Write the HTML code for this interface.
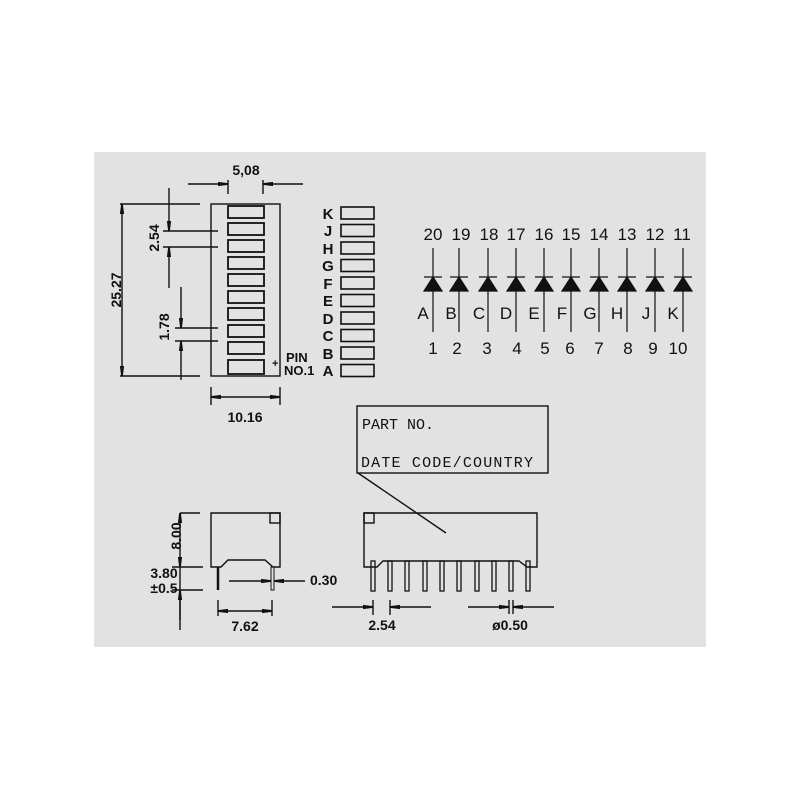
<!DOCTYPE html>
<html><head><style>
body{margin:0;background:#fff;}
svg{display:block;}
text{font-family:"Liberation Sans",sans-serif;fill:#111;}
</style></head><body>
<svg width="800" height="800" viewBox="0 0 800 800" xmlns="http://www.w3.org/2000/svg">
<defs>
<marker id="a" viewBox="0 0 12 6" refX="12" refY="3" markerWidth="12" markerHeight="5" orient="auto-start-reverse" markerUnits="userSpaceOnUse"><path d="M0,0.5 L12,2 L12,4 L0,5.5z" fill="#111"/></marker>
</defs>
<rect x="94" y="152" width="612" height="495" fill="#e2e2e2"/>
<g stroke="#111" stroke-width="1.4" fill="none">
<rect x="211" y="204" width="69" height="172"/>
<g stroke-width="1.8">
<rect x="228" y="206" width="36" height="12"/>
<rect x="228" y="223" width="36" height="12"/>
<rect x="228" y="240" width="36" height="12"/>
<rect x="228" y="257" width="36" height="12"/>
<rect x="228" y="274" width="36" height="12"/>
<rect x="228" y="291" width="36" height="12"/>
<rect x="228" y="308" width="36" height="12"/>
<rect x="228" y="325" width="36" height="12"/>
<rect x="228" y="342" width="36" height="12"/>
<rect x="228" y="360" width="36" height="14"/>
</g>
<g stroke-width="1.6">
<rect x="341" y="207" width="33" height="12"/>
<rect x="341" y="224.5" width="33" height="12"/>
<rect x="341" y="242" width="33" height="12"/>
<rect x="341" y="259.5" width="33" height="12"/>
<rect x="341" y="277" width="33" height="12"/>
<rect x="341" y="294.5" width="33" height="12"/>
<rect x="341" y="312" width="33" height="12"/>
<rect x="341" y="329.5" width="33" height="12"/>
<rect x="341" y="347" width="33" height="12"/>
<rect x="341" y="364.5" width="33" height="12"/>
</g>
<line x1="188" y1="184" x2="228" y2="184" marker-end="url(#a)"/>
<line x1="303" y1="184" x2="263" y2="184" marker-end="url(#a)"/>
<line x1="228" y1="180" x2="228" y2="194"/>
<line x1="263" y1="180" x2="263" y2="194"/>
<line x1="120" y1="204" x2="200" y2="204"/>
<line x1="120" y1="376" x2="200" y2="376"/>
<line x1="122" y1="204" x2="122" y2="376" marker-start="url(#a)" marker-end="url(#a)"/>
<line x1="169" y1="188" x2="169" y2="231" marker-end="url(#a)"/>
<line x1="169" y1="288" x2="169" y2="247" marker-end="url(#a)"/>
<line x1="163" y1="231" x2="218" y2="231"/>
<line x1="163" y1="247" x2="218" y2="247"/>
<line x1="181" y1="287" x2="181" y2="328" marker-end="url(#a)"/>
<line x1="181" y1="380" x2="181" y2="341" marker-end="url(#a)"/>
<line x1="175" y1="328" x2="218" y2="328"/>
<line x1="175" y1="341" x2="218" y2="341"/>
<line x1="211" y1="387" x2="211" y2="405"/>
<line x1="280" y1="387" x2="280" y2="405"/>
<line x1="211" y1="397" x2="280" y2="397" marker-start="url(#a)" marker-end="url(#a)"/>
<rect x="357" y="406" width="191" height="67"/>
<line x1="358" y1="473" x2="446" y2="533"/>
<path d="M211,567 V513 H280 V567 H273 L265,560 H228 L221,567 Z"/>
<rect x="270" y="513" width="10" height="10"/>
<line x1="218" y1="567" x2="218" y2="590" stroke-width="2.5"/>
<rect x="271" y="567" width="3" height="23" stroke-width="1"/>
<line x1="229" y1="581" x2="271" y2="581" marker-end="url(#a)"/>
<line x1="305" y1="581" x2="274" y2="581" marker-end="url(#a)"/>
<line x1="218" y1="600" x2="218" y2="616"/>
<line x1="272" y1="600" x2="272" y2="616"/>
<line x1="218" y1="611" x2="272" y2="611" marker-start="url(#a)" marker-end="url(#a)"/>
<line x1="180" y1="513" x2="200" y2="513"/>
<line x1="172" y1="567" x2="203" y2="567"/>
<line x1="172" y1="590" x2="203" y2="590"/>
<line x1="180" y1="513" x2="180" y2="567" marker-start="url(#a)" marker-end="url(#a)"/>
<line x1="180" y1="567" x2="180" y2="630"/>
<line x1="180" y1="620" x2="180" y2="590" marker-end="url(#a)"/>
<path d="M364,567 V513 H537 V567 H527 L519,561 H383 L377,567 Z"/>
<rect x="364" y="513" width="10" height="10"/>
<g stroke-width="1.3">
<rect x="371" y="561" width="4" height="30"/>
<rect x="388" y="561" width="4" height="30"/>
<rect x="405" y="561" width="4" height="30"/>
<rect x="423" y="561" width="4" height="30"/>
<rect x="440" y="561" width="4" height="30"/>
<rect x="457" y="561" width="4" height="30"/>
<rect x="475" y="561" width="4" height="30"/>
<rect x="492" y="561" width="4" height="30"/>
<rect x="509" y="561" width="4" height="30"/>
<rect x="526" y="561" width="4" height="30"/>
</g>
<line x1="373" y1="600" x2="373" y2="615"/>
<line x1="390" y1="600" x2="390" y2="615"/>
<line x1="332" y1="607" x2="373" y2="607" marker-end="url(#a)"/>
<line x1="431" y1="607" x2="390" y2="607" marker-end="url(#a)"/>
<line x1="468" y1="607" x2="509" y2="607" marker-end="url(#a)"/>
<line x1="554" y1="607" x2="513" y2="607" marker-end="url(#a)"/>
<line x1="509" y1="600" x2="509" y2="614"/>
<line x1="513" y1="600" x2="513" y2="614"/>
</g>
<g stroke="#111" stroke-width="1.2">
<g transform="translate(433,0)"><line x1="0" y1="248" x2="0" y2="332"/><line x1="-9" y1="277" x2="9" y2="277"/><path d="M-9,291 L9,291 L0,277Z" fill="#111"/></g>
<g transform="translate(459,0)"><line x1="0" y1="248" x2="0" y2="332"/><line x1="-9" y1="277" x2="9" y2="277"/><path d="M-9,291 L9,291 L0,277Z" fill="#111"/></g>
<g transform="translate(488,0)"><line x1="0" y1="248" x2="0" y2="332"/><line x1="-9" y1="277" x2="9" y2="277"/><path d="M-9,291 L9,291 L0,277Z" fill="#111"/></g>
<g transform="translate(516,0)"><line x1="0" y1="248" x2="0" y2="332"/><line x1="-9" y1="277" x2="9" y2="277"/><path d="M-9,291 L9,291 L0,277Z" fill="#111"/></g>
<g transform="translate(544,0)"><line x1="0" y1="248" x2="0" y2="332"/><line x1="-9" y1="277" x2="9" y2="277"/><path d="M-9,291 L9,291 L0,277Z" fill="#111"/></g>
<g transform="translate(571,0)"><line x1="0" y1="248" x2="0" y2="332"/><line x1="-9" y1="277" x2="9" y2="277"/><path d="M-9,291 L9,291 L0,277Z" fill="#111"/></g>
<g transform="translate(599,0)"><line x1="0" y1="248" x2="0" y2="332"/><line x1="-9" y1="277" x2="9" y2="277"/><path d="M-9,291 L9,291 L0,277Z" fill="#111"/></g>
<g transform="translate(627,0)"><line x1="0" y1="248" x2="0" y2="332"/><line x1="-9" y1="277" x2="9" y2="277"/><path d="M-9,291 L9,291 L0,277Z" fill="#111"/></g>
<g transform="translate(655,0)"><line x1="0" y1="248" x2="0" y2="332"/><line x1="-9" y1="277" x2="9" y2="277"/><path d="M-9,291 L9,291 L0,277Z" fill="#111"/></g>
<g transform="translate(683,0)"><line x1="0" y1="248" x2="0" y2="332"/><line x1="-9" y1="277" x2="9" y2="277"/><path d="M-9,291 L9,291 L0,277Z" fill="#111"/></g>
</g>
<g font-size="17" text-anchor="middle">
<text x="433" y="240">20</text><text x="461" y="240">19</text><text x="489" y="240">18</text><text x="516" y="240">17</text><text x="544" y="240">16</text><text x="571" y="240">15</text><text x="599" y="240">14</text><text x="627" y="240">13</text><text x="655" y="240">12</text><text x="682" y="240">11</text>
<text x="423" y="319">A</text><text x="451" y="319">B</text><text x="479" y="319">C</text><text x="506" y="319">D</text><text x="534" y="319">E</text><text x="562" y="319">F</text><text x="590" y="319">G</text><text x="617" y="319">H</text><text x="646" y="319">J</text><text x="673" y="319">K</text>
<text x="433" y="354">1</text><text x="457" y="354">2</text><text x="487" y="354">3</text><text x="517" y="354">4</text><text x="545" y="354">5</text><text x="570" y="354">6</text><text x="599" y="354">7</text><text x="628" y="354">8</text><text x="653" y="354">9</text><text x="678" y="354">10</text>
</g>
<g font-size="14" font-weight="bold">
<text x="246" y="175" text-anchor="middle">5,08</text>
<text x="245" y="422" text-anchor="middle">10.16</text>
<text transform="translate(121,290) rotate(-90)" text-anchor="middle">25.27</text>
<text transform="translate(159,238) rotate(-90)" text-anchor="middle">2.54</text>
<text transform="translate(169,327) rotate(-90)" text-anchor="middle">1.78</text>
<text transform="translate(181,536) rotate(-90)" text-anchor="middle">8.00</text>
<text x="164" y="578" text-anchor="middle">3.80</text>
<text x="164" y="593" text-anchor="middle">±0.5</text>
<text x="310" y="585">0.30</text>
<text x="245" y="631" text-anchor="middle">7.62</text>
<text x="382" y="630" text-anchor="middle">2.54</text>
<text x="510" y="630" text-anchor="middle">ø0.50</text>
<text x="286" y="362" font-size="13">PIN</text>
<text x="284" y="375" font-size="13">NO.1</text>
<text x="272" y="367" font-size="11">+</text>
<g text-anchor="middle" font-size="15">
<text x="328" y="219">K</text><text x="328" y="236">J</text><text x="328" y="254">H</text><text x="328" y="271">G</text><text x="328" y="289">F</text><text x="328" y="306">E</text><text x="328" y="324">D</text><text x="328" y="341">C</text><text x="328" y="359">B</text><text x="328" y="376">A</text>
</g>
</g>
<g font-family="Liberation Mono, monospace" font-size="15" style="font-family:'Liberation Mono',monospace">
<text x="362" y="429" style="font-family:'Liberation Mono',monospace">PART NO.</text>
<text x="361" y="467" style="font-family:'Liberation Mono',monospace" textLength="172">DATE CODE/COUNTRY</text>
</g>
</svg>
</body></html>
